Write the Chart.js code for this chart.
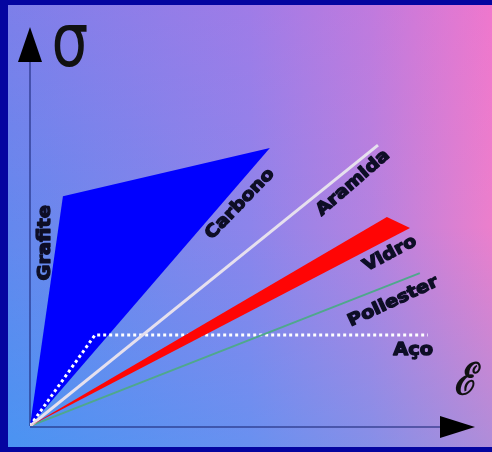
<!DOCTYPE html>
<html>
<head>
<meta charset="utf-8">
<script src="https://cdn.jsdelivr.net/npm/chart.js@4.4.0/dist/chart.umd.min.js"></script>
<style>
  html, body { margin: 0; padding: 0; background: #0505a0; width: 492px; height: 452px; overflow: hidden; }
  #bg {
    position: absolute; left: 8px; top: 5px; width: 484px; height: 442px;
    background:
      linear-gradient(to bottom, rgba(255,80,210,0.16), rgba(255,80,210,0) 50%, rgba(0,180,255,0) 50%, rgba(0,180,255,0.26)),
      linear-gradient(to right, #6488ee 0%, #8d84eb 50%, #b482e0 75%, #ec7fcc 100%);
  }
  #chart { position: absolute; left: 0; top: 0; }
</style>
</head>
<body>
<div id="bg"></div>
<canvas id="chart" width="492" height="452"></canvas>
<script>
// strain (x) / stress (y) in arbitrary units, 0..100 on both axes
let grafiteCarbono = [[0, 0], [7.4, 57.6], [53.9, 69.7], [0, 0]];
let aramida = [[0, 0], [78.2, 70.4]];
let vidro = [[0, 0], [80.2, 52.4], [85.4, 49.6], [0, 0]];
let poliester = [[0, 0], [87.6, 38.3]];
let aco = [[0, 0], [14.6, 22.8], [89.4, 22.8]];

let names = ["Grafite", "Carbono", "Aramida", "Vidro", "Poliester", "Aço"];
let nameAt = [[3.4, 45.9], [47.2, 55.6], [72.6, 60.9], [80.9, 43.1], [81.6, 31.1], [86.1, 19.0]];
let nameAngle = [-90, -46, -41, -28, -25, 0];

const pts = a => a.map(p => ({ x: p[0], y: p[1] }));

const deco = {
  id: 'deco',
  beforeDatasetsDraw(chart) {
    const { ctx, scales: { x, y } } = chart;
    const x0 = x.getPixelForValue(0), y0 = y.getPixelForValue(0);
    const xEnd = x.getPixelForValue(100), yEnd = y.getPixelForValue(100);
    ctx.save();
    ctx.strokeStyle = 'rgba(30,40,120,0.55)';
    ctx.lineWidth = 2;
    ctx.beginPath();
    ctx.moveTo(x0, y0); ctx.lineTo(x0, yEnd + 34);
    ctx.moveTo(x0, y0 + 1); ctx.lineTo(xEnd - 34, y0 + 1);
    ctx.stroke();
    ctx.fillStyle = '#000';
    ctx.beginPath();
    ctx.moveTo(x0, yEnd); ctx.lineTo(x0 - 12, yEnd + 35); ctx.lineTo(x0 + 12, yEnd + 35);
    ctx.fill();
    ctx.beginPath();
    ctx.moveTo(xEnd, y0 + 1); ctx.lineTo(xEnd - 35, y0 - 10); ctx.lineTo(xEnd - 35, y0 + 12);
    ctx.fill();
    ctx.restore();
  },
  afterDatasetsDraw(chart) {
    const { ctx, scales: { x, y } } = chart;
    ctx.save();
    ctx.fillStyle = '#0e0e26';
    ctx.strokeStyle = '#0e0e26';
    ctx.lineWidth = 1.3;
    ctx.lineJoin = 'round';
    ctx.font = 'bold 17px "DejaVu Sans"';
    ctx.textAlign = 'center';
    ctx.textBaseline = 'middle';
    names.forEach((t, i) => {
      ctx.save();
      ctx.translate(x.getPixelForValue(nameAt[i][0]), y.getPixelForValue(nameAt[i][1]));
      ctx.rotate(nameAngle[i] * Math.PI / 180);
      ctx.scale(1.14, 1);
      ctx.fillText(t, 0, 0);
      ctx.strokeText(t, 0, 0);
      ctx.restore();
    });
    // axis symbols
    ctx.fillStyle = '#111';
    ctx.save();
    ctx.translate(x.getPixelForValue(0) + 40, y.getPixelForValue(100) + 19);
    ctx.scale(1, 1.3);
    ctx.font = '58px "DejaVu Sans"';
    ctx.fillText('σ', 0, 0);
    ctx.restore();
    ctx.save();
    ctx.translate(x.getPixelForValue(100) - 10, y.getPixelForValue(0) - 43);
    ctx.rotate(-0.2);
    ctx.font = 'italic bold 40px "DejaVu Serif"';
    ctx.fillText('ℰ', 0, 0);
    ctx.restore();
    ctx.restore();
  }
};

new Chart(document.getElementById('chart'), {
  type: 'scatter',
  data: {
    datasets: [
      { label: 'Vidro', data: pts(vidro), showLine: true, fill: 'shape', backgroundColor: '#ff0505', borderWidth: 0, pointRadius: 0, order: 0 },
      { label: 'Aramida', data: pts(aramida), showLine: true, borderColor: '#e6e0ee', borderWidth: 3, pointRadius: 0, order: 1 },
      { label: 'Poliester', data: pts(poliester), showLine: true, borderColor: '#4fa88c', borderWidth: 2, pointRadius: 0, order: 2 },
      { label: 'Aço', data: pts(aco), showLine: true, borderColor: '#ffffff', borderWidth: 3, borderDash: [3, 3], pointRadius: 0, order: 3 },
      { label: 'Grafite/Carbono', data: pts(grafiteCarbono), showLine: true, fill: 'shape', backgroundColor: '#0000ff', borderWidth: 0, pointRadius: 0, order: 4 }
    ]
  },
  options: {
    responsive: false,
    animation: false,
    layout: { padding: { left: 30, right: 17, top: 27, bottom: 26 } },
    scales: {
      x: { type: 'linear', min: 0, max: 100, display: false },
      y: { type: 'linear', min: 0, max: 100, display: false }
    },
    plugins: { legend: { display: false }, tooltip: { enabled: false } }
  },
  plugins: [deco]
});
</script>
</body>
</html>
